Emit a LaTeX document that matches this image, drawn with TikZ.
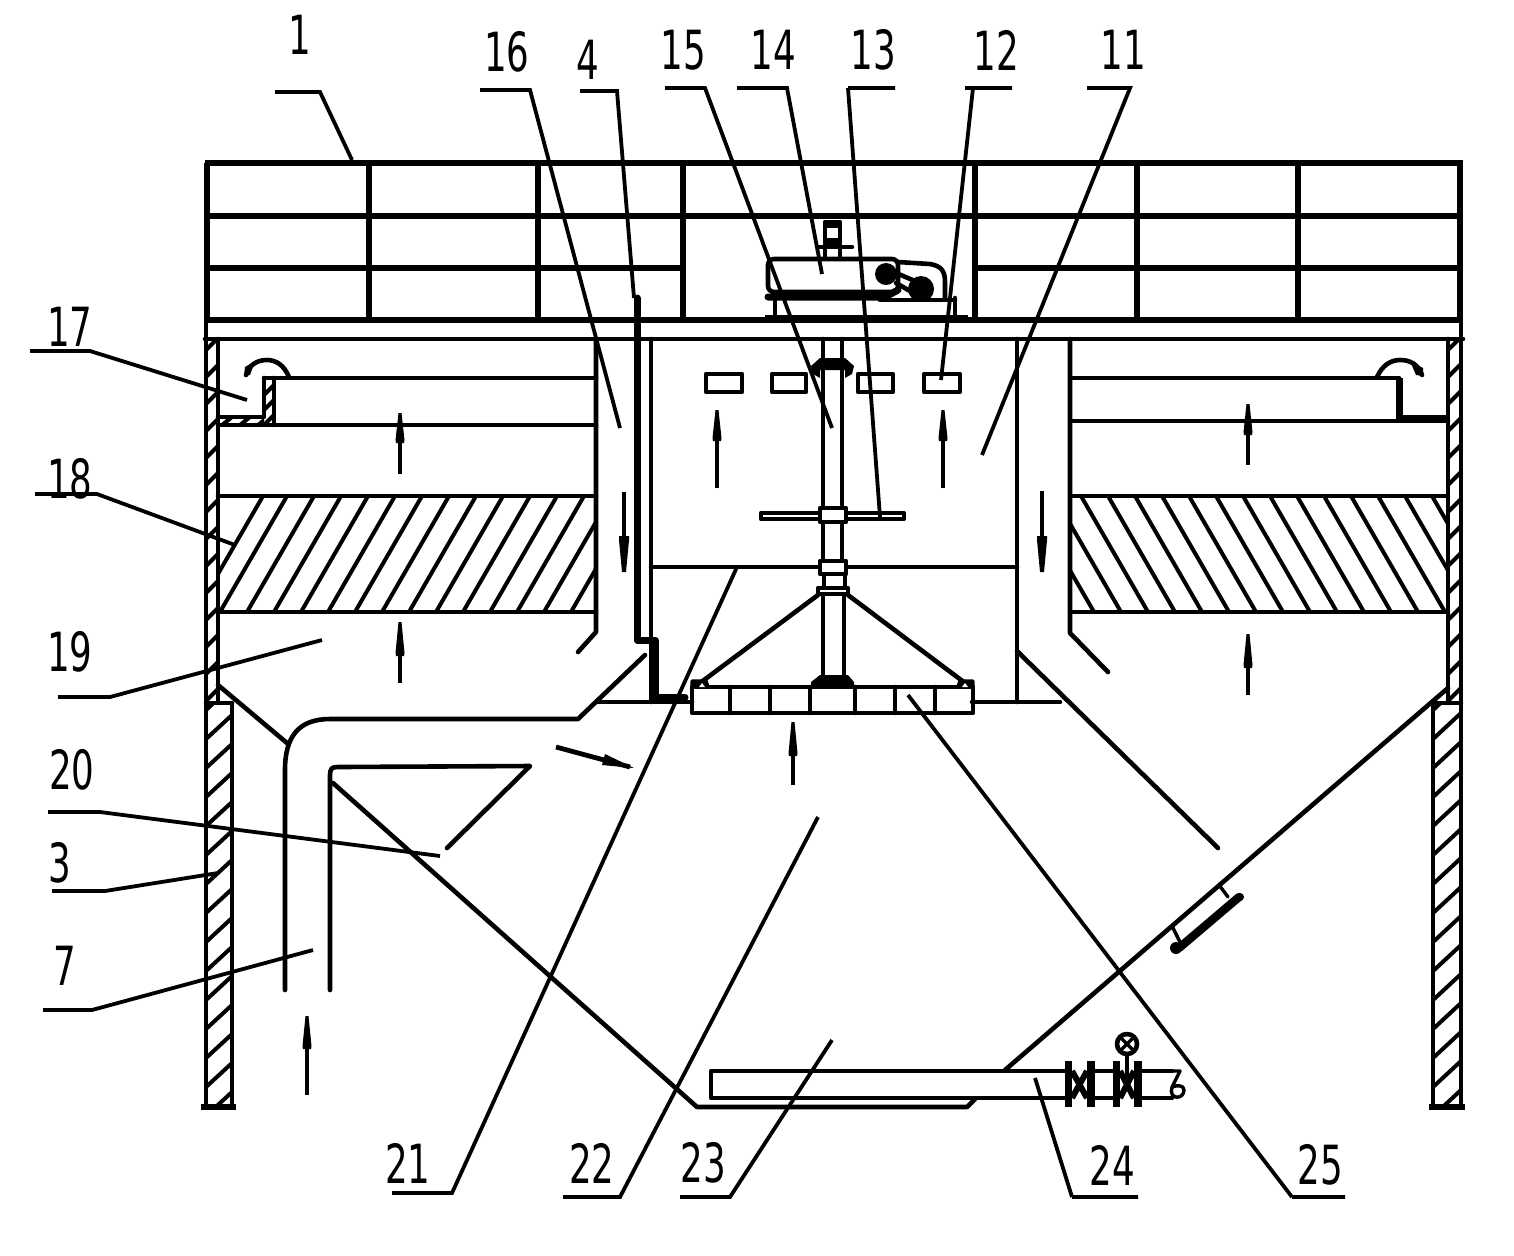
\documentclass[tikz,border=0pt]{standalone}
\usepackage{fontspec}
\usepackage{graphicx}
\setmainfont{Liberation Sans}
\newfontfamily\labfont{DejaVu Sans}
\tikzset{
 main/.style={line width=2.3pt,line join=round,line cap=round},
 thin/.style={line width=1.7pt,line join=round,line cap=round},
 heavy/.style={line width=3.5pt,line join=round,line cap=round},
 rail/.style={line width=2.9pt},
 leader/.style={line width=1.9pt},
 hatch/.style={line width=2pt},
 lab/.style={inner sep=0pt,font=\labfont\fontsize{27}{27}\selectfont}
}
\newcommand{\lbl}[3]{\node[lab] (n#3) at (#1,#2) {\scalebox{0.66}[1]{#3}};}
\newcommand{\arrv}[4]{% x, tail y, spindle tip y, spindle base y
 \draw[line width=2.4pt] (#1,#2) -- (#1,#3+6);
 \fill (#1,#3) -- (#1+1.5,#3) -- (#1+4.5,#4) -- (#1+4,#4+3) -- (#1-4,#4+3) -- (#1-4.5,#4) -- (#1-1.5,#3) -- cycle;}
\begin{document}
\begin{tikzpicture}[x=0.5pt,y=-0.5pt]
\useasboundingbox (0,0) rectangle (1514,1255);
\fill[white] (0,0) rectangle (1514,1255);

% railing
\draw[rail] (205,163) -- (1463,163);
\draw[rail] (207,216) -- (1460,216);
\draw[rail] (207,268) -- (683,268) (975,268) -- (1460,268);
\foreach \x in {207,369,538,683,975,1137,1298,1460}
  \draw[rail] (\x,163) -- (\x,320);
% deck
\draw[rail] (205,320) -- (1463,320);
\draw[main] (205,339) -- (1463,339);

% outer walls (upper)
\draw[main] (206,320) -- (206,703) (218,339) -- (218,703);
\draw[main] (1448,339) -- (1448,703) (1461,320) -- (1461,703);
\begin{scope}
 \clip (206,339) rectangle (218,703);
 \foreach \y in {350,377,...,720} \draw[hatch] (206,\y) -- (218,\y-12);
\end{scope}
\begin{scope}
 \clip (1448,339) rectangle (1461,703);
 \foreach \y in {350,377,...,720} \draw[hatch] (1448,\y) -- (1461,\y-13);
\end{scope}

% legs
\draw[main] (206,703) -- (232,703) (232,703) -- (232,1107) (206,703) -- (206,1107);
\draw[main] (1433,703) -- (1461,703) (1433,703) -- (1433,1107) (1461,703) -- (1461,1107);
\draw[line width=3pt] (201,1107) -- (236,1107) (1429,1107) -- (1465,1107);
\begin{scope}
 \clip (206,703) rectangle (232,1107);
 \foreach \y in {710,739,...,1140} \draw[hatch] (206,\y) -- (232,\y-24);
\end{scope}
\begin{scope}
 \clip (1433,703) rectangle (1461,1107);
 \foreach \y in {710,739,...,1140} \draw[hatch] (1433,\y) -- (1461,\y-26);
\end{scope}

% filter beds
\draw[main] (218,496) -- (596,496) (218,612) -- (596,612);
\draw[main] (1070,496) -- (1448,496) (1070,612) -- (1448,612);
\begin{scope}
 \clip (218,496) rectangle (596,612);
 \foreach \x in {220,247,...,760} \draw[hatch] (\x,612) -- (\x+67,496);
 \draw[hatch] (196,612) -- (263,496);
\end{scope}
\begin{scope}
 \clip (1070,496) rectangle (1448,612);
 \foreach \x in {1000,1027,...,1460} \draw[hatch] (\x,496) -- (\x+67,612);
\end{scope}

% left weir
\draw[main] (264,378) -- (596,378) (218,425) -- (596,425);
\draw[main] (274,378) -- (274,425) (264,378) -- (264,417) -- (218,417);
\begin{scope}
 \clip (218,417) rectangle (264,425);
 \foreach \x in {222,240,258} \draw[hatch] (\x,425) -- (\x+10,417);
\end{scope}
\begin{scope}
 \clip (264,378) rectangle (274,425);
 \foreach \y in {395,410,425} \draw[hatch] (264,\y) -- (274,\y-10);
\end{scope}
\draw[main] (289,377) .. controls (284,365) and (276,360) .. (267,360) .. controls (257,360) and (249,365) .. (246,375);
\fill (244,376) -- (245,367) -- (255,361) -- (250,375) -- cycle;
% right weir
\draw[main] (1070,378) -- (1399,378) (1070,421) -- (1448,421);
\draw[heavy,line cap=butt] (1399,378) -- (1399,420) (1399,418) -- (1448,418);
\draw[main] (1377,377) .. controls (1382,366) and (1390,360) .. (1400,360) .. controls (1410,360) and (1418,364) .. (1422,375);
\fill (1423,376) -- (1423,368) -- (1410,361) -- (1416,375) -- cycle;

% down-comer walls
\draw[main] (596,339) -- (596,632) -- (578,652);
\draw[main] (1070,339) -- (1070,633) -- (1108,672);
\draw[main] (651,339) -- (651,702);
\draw[main] (1017,339) -- (1017,702);
\draw[main] (651,567) -- (1017,567);
% launder pipe
\draw[line width=3.5pt,line join=round,line cap=round] (637,298) -- (637,640) -- (655,640) -- (655,697) -- (685,697);

% floor of reaction zone
\draw[main] (598,702) -- (692,702) (972,702) -- (1060,702);

% hopper / inlet pipe
\draw[main] (645,655) -- (578,719) -- (330,719) .. controls (300,719) and (285,735) .. (285,770) -- (285,990);
\draw[main] (218,685) -- (287,743);
\draw[main] (330,990) -- (330,776) .. controls (330,768) and (332,767) .. (338,767) -- (530,766) -- (447,848);
\draw[main] (1017,651) -- (1218,848);
\draw[main] (1448,688) -- (1005,1070);
% cone
\draw[main] (333,783) -- (697,1107) -- (967,1107) -- (975,1099);

% sludge pipe
\draw[main] (1065,1071) -- (711,1071) -- (711,1098) -- (1065,1098);
\draw[main] (1095,1071) -- (1113,1071) (1095,1098) -- (1113,1098);
\draw[main] (1142,1071) -- (1172,1071) (1142,1098) -- (1172,1098);
\draw[thin] (1172,1071) -- (1180,1071) -- (1172,1087) .. controls (1168,1100) and (1184,1100) .. (1184,1090) .. controls (1184,1085) and (1177,1085) .. (1172,1087);
% valves
\foreach \a/\b in {1065/1072,1087/1095,1113/1120,1134/1142}
  \fill (\a,1061) rectangle (\b,1107);
\draw[line width=3pt] (1072,1071) -- (1087,1098) (1072,1098) -- (1087,1071);
\draw[line width=3pt] (1120,1071) -- (1134,1098) (1120,1098) -- (1134,1071);
\draw[thin] (1127,1054) -- (1127,1085);
\draw[main] (1127,1044) circle (10);
\fill (1127,1044) circle (2);
\draw[thin] (1121,1038) -- (1133,1050) (1133,1038) -- (1121,1050);

% sight glass
\draw[thin] (1172,926) -- (1180,942) (1219,885) -- (1228,897);
\draw[line width=4.2pt,line cap=round] (1179,948) -- (1239,897);
\fill (1176,948) circle (6);
\fill (1240,897) circle (4);

% small rectangles
\foreach \a/\b in {706/742,772/806,858/893,924/960}
  \draw[main] (\a,374) rectangle (\b,392);

% shaft
\draw[main] (823,339) -- (823,509) (842,339) -- (842,509);
\draw[main] (823,521) -- (823,560) (842,521) -- (842,560);
\draw[main] (824,574) -- (824,587) (845,574) -- (845,587);
\draw[main] (823,595) -- (823,678) (844,595) -- (844,678);
\fill (811,366) -- (820,358) -- (845,358) -- (854,366) -- (852,374) -- (845,378) -- (845,370) -- (820,370) -- (820,378) -- (813,374) -- cycle;
\draw[main] (761,513) rectangle (904,519);
\draw[main,fill=white] (820,508) rectangle (846,522);
\draw[main,fill=white] (820,561) rectangle (846,574);
\draw[main,fill=white] (818,588) rectangle (848,594);
\draw[main] (818,595) -- (700,683) (848,595) -- (965,683);
\fill (811,686) -- (811,682) -- (820,675) -- (848,675) -- (854,682) -- (854,686) -- cycle;
% impeller
\draw[main] (692,687) rectangle (973,713);
\foreach \x in {730,770,810,855,895,935} \draw[main] (\x,687) -- (\x,713);
\draw[thin,fill=black] (692,687) -- (692,681) -- (706,681) -- (708,687) -- cycle;
\draw[thin,fill=black] (958,687) -- (960,681) -- (973,681) -- (973,687) -- cycle;
\fill[white] (699,687) -- (702,683) -- (705,687) -- cycle;
\fill[white] (962,687) -- (965,683) -- (968,687) -- cycle;

% motor
\draw[main,rounded corners=3pt] (768,259) rectangle (898,292);
\draw[heavy] (768,297) -- (885,297) -- (898,290);
\draw[main] (775,298) -- (775,318) (955,298) -- (955,318) (880,300) -- (955,300);
\draw[line width=3pt] (765,318) -- (968,318);
\fill (886,274) circle (11);
\begin{scope}
\clip (900,270) rectangle (940,298);
\fill (921,289) circle (13);
\end{scope}
\draw[main] (896,273) -- (915,281) (896,283) -- (910,291);
\draw[main,line cap=butt] (898,262) -- (930,264) .. controls (942,266) and (945,272) .. (945,282) -- (945,300);
\draw[main] (825,222) rectangle (840,246);
\fill (825,222) rectangle (840,228);
\fill (825,238) rectangle (840,246);
\draw[main] (818,247) -- (852,247);
\draw[main] (825,246) -- (825,258) (840,246) -- (840,258);

% flow arrows
\arrv{400}{474}{413}{440}
\arrv{400}{683}{622}{653}
\arrv{717}{488}{410}{438}
\arrv{943}{488}{410}{438}
\arrv{1248}{465}{404}{432}
\arrv{1248}{695}{634}{665}
\arrv{793}{785}{722}{753}
\arrv{307}{1095}{1016}{1046}
\draw[line width=2.4pt] (624,492) -- (624,566);
\draw[line width=2.4pt] (1042,491) -- (1042,566);
\fill (624,572) -- (626,572) -- (629,540) -- (629,536) -- (619,536) -- (619,540) -- (622,572) -- cycle;
\fill (1042,572) -- (1044,572) -- (1047,540) -- (1047,536) -- (1037,536) -- (1037,540) -- (1040,572) -- cycle;
\draw[line width=2.4pt] (556,747) -- (630,767);
\fill (634,768) -- (605,754) -- (602,765) -- cycle;

% labels and leaders
\lbl{300}{35}{1}
\draw[leader] (275,92) -- (320,92) -- (352,160);
\lbl{507}{52}{16}
\draw[leader] (480,90) -- (530,90) -- (620,428);
\lbl{588}{60}{4}
\draw[leader] (580,91) -- (617,91) -- (634,298);
\lbl{683}{50}{15}
\draw[leader] (665,88) -- (705,88) -- (832,428);
\lbl{773}{50}{14}
\draw[leader] (737,88) -- (787,88) -- (822,274);
\lbl{873}{50}{13}
\draw[leader] (848,88) -- (895,88) (848,88) -- (880,517);
\lbl{996}{50}{12}
\draw[leader] (965,88) -- (1012,88) (973,88) -- (941,380);
\lbl{1123}{50}{11}
\draw[leader] (1087,88) -- (1130,88) -- (982,455);
\lbl{70}{327}{17}
\draw[leader] (30,351) -- (90,351) -- (247,400);
\lbl{70}{479}{18}
\draw[leader] (35,494) -- (97,494) -- (235,545);
\lbl{70}{652}{19}
\draw[leader] (58,697) -- (110,697) -- (322,640);
\lbl{72}{770}{20}
\draw[leader] (48,812) -- (100,812) -- (440,856);
\lbl{60}{863}{3}
\draw[leader] (52,891) -- (105,891) -- (218,873);
\lbl{65}{966}{7}
\draw[leader] (43,1010) -- (92,1010) -- (313,950);
\lbl{408}{1163}{21}
\draw[leader] (392,1193) -- (452,1193) -- (737,567);
\lbl{592}{1163}{22}
\draw[leader] (563,1197) -- (620,1197) -- (818,817);
\lbl{703}{1163}{23}
\draw[leader] (680,1197) -- (730,1197) -- (832,1040);
\lbl{1112}{1165}{24}
\draw[leader] (1072,1197) -- (1138,1197) (1072,1197) -- (1035,1078);
\lbl{1320}{1165}{25}
\draw[leader] (1292,1197) -- (1345,1197) (1292,1197) -- (908,695);
\end{tikzpicture}
\end{document}
